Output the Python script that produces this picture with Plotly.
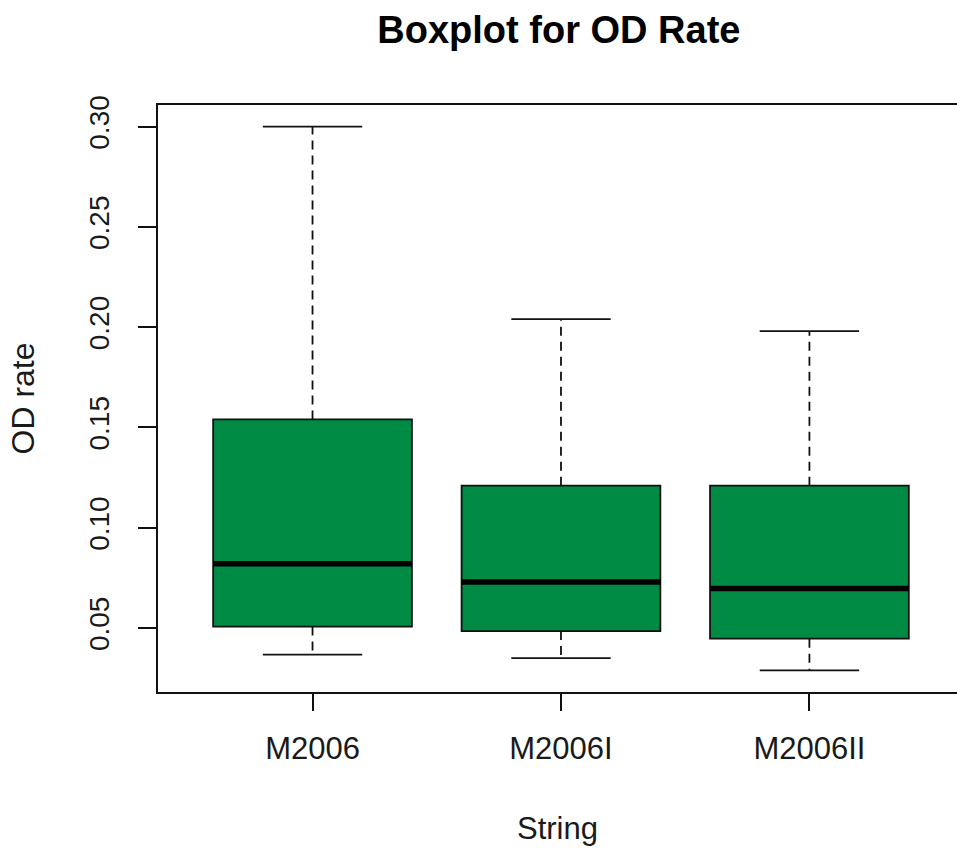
import plotly.graph_objects as go

categories = ["M2006", "M2006I", "M2006II"]
positions = [1, 2, 3]
lower_whisker = [0.0367, 0.035, 0.0289]
q1_values = [0.0507, 0.0485, 0.0447]
median_values = [0.082, 0.073, 0.0697]
q3_values = [0.154, 0.121, 0.121]
upper_whisker = [0.300, 0.204, 0.198]
y_ticks = [0.05, 0.10, 0.15, 0.20, 0.25, 0.30]

FILL = "#008B45"
LINE = "#111111"
BOX_W = 0.8
CAP_W = 0.4

fig = go.Figure()

for i, name in enumerate(categories):
    x = positions[i]
    # dashed whiskers
    fig.add_trace(go.Scatter(
        x=[x, x, None, x, x],
        y=[q3_values[i], upper_whisker[i], None, q1_values[i], lower_whisker[i]],
        mode="lines", line=dict(color=LINE, width=1.8, dash="9px,6px"),
        hoverinfo="skip", showlegend=False))
    # staples
    fig.add_trace(go.Scatter(
        x=[x - CAP_W / 2, x + CAP_W / 2, None, x - CAP_W / 2, x + CAP_W / 2],
        y=[upper_whisker[i], upper_whisker[i], None, lower_whisker[i], lower_whisker[i]],
        mode="lines", line=dict(color=LINE, width=1.8),
        hoverinfo="skip", showlegend=False))
    # box
    fig.add_trace(go.Box(
        x=[x], q1=[q1_values[i]], median=[median_values[i]], q3=[q3_values[i]],
        lowerfence=[q1_values[i]], upperfence=[q3_values[i]],
        width=BOX_W, fillcolor=FILL, line=dict(color=LINE, width=1.8),
        whiskerwidth=0, name=name, showlegend=False, boxpoints=False))
    # thick median
    fig.add_trace(go.Scatter(
        x=[x - BOX_W / 2, x + BOX_W / 2],
        y=[median_values[i], median_values[i]],
        mode="lines", line=dict(color="black", width=5.5),
        hoverinfo="skip", showlegend=False))

FONT = "Liberation Sans, Arial, sans-serif"

fig.update_layout(
    width=957, height=851,
    margin=dict(l=158, r=0, t=105, b=159),
    paper_bgcolor="white", plot_bgcolor="white",
    title=dict(text="<b>Boxplot for OD Rate</b>", x=0.584, xanchor="center",
               y=0.965, yanchor="middle",
               font=dict(family=FONT, size=38, color="black")),
    xaxis=dict(range=[0.378, 3.594], tickvals=positions, ticktext=categories,
               showgrid=False, zeroline=False, showline=True, mirror=True,
               linecolor=LINE, linewidth=1.8, ticks="outside", ticklen=17,
               tickwidth=1.8, tickcolor=LINE, ticklabelstandoff=11,
               tickfont=dict(family=FONT, size=31, color="#1a1a1a"),
               title=dict(text="String", standoff=52,
                          font=dict(family=FONT, size=31, color="#1a1a1a"))),
    yaxis=dict(range=[0.0181, 0.3108], tickvals=y_ticks,
               ticktext=[f"{v:.2f}" for v in y_ticks],
               showgrid=False, zeroline=False, showline=True, mirror=False,
               linecolor=LINE, linewidth=1.8, ticks="outside", ticklen=18,
               tickwidth=1.8, tickcolor=LINE, tickangle=-90, ticklabelstandoff=18,
               tickfont=dict(family=FONT, size=28, color="#1a1a1a"),
               title=dict(text="OD rate", standoff=40,
                          font=dict(family=FONT, size=32, color="#1a1a1a"))),
)

fig.write_html("out.html")
